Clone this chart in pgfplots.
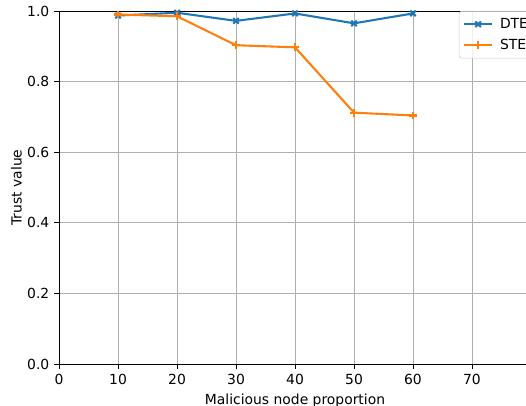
\documentclass[border=0pt]{standalone}
\usepackage{fontspec}
\setmainfont{DejaVu Sans}
\usepackage{pgfplots}
\pgfplotsset{compat=1.18}
\usetikzlibrary{calc}
\definecolor{c0}{HTML}{1F77B4}
\definecolor{c1}{HTML}{FF7F0E}
\definecolor{gridc}{HTML}{B0B0B0}
\begin{document}
\begin{tikzpicture}
\begin{axis}[
  name=ax,
  scale only axis,
  width=339.8pt, height=254.2pt,
  xmin=0, xmax=80, ymin=0, ymax=1,
  xtick={0,10,20,30,40,50,60,70},
  ytick={0,0.2,0.4,0.6,0.8,1.0},
  yticklabel style={/pgf/number format/fixed,/pgf/number format/fixed zerofill,/pgf/number format/precision=1},
  /pgf/number format/assume math mode=true,
  tick label style={font=\fontsize{10}{12}\selectfont},
  label style={font=\fontsize{10}{12}\selectfont},
  xlabel={Malicious node proportion},
  ylabel={Trust value},
  xlabel style={yshift=3pt},
  ylabel style={yshift=-3pt},
  grid=major,
  major grid style={gridc, line width=0.6pt},
  tick align=outside,
  major tick length=3.5pt,
  xtick pos=bottom, ytick pos=left,
  axis x line=box, axis y line*=left,
  axis line style={-, line width=0.6pt, black},
  every tick/.style={black, line width=0.6pt},
  legend cell align=left,
  legend image code/.code={\draw[mark repeat=2,mark phase=2] plot coordinates {(0pt,0pt)(10pt,0pt)(20pt,0pt)};},
  legend style={at={(rel axis cs:0.847,1.0)}, anchor=north west,
    draw=gray!40, rounded corners=2pt, fill=white, fill opacity=0.8, text opacity=1,
    font=\fontsize{10}{12}\selectfont, inner xsep=3pt, inner ysep=3pt, row sep=2pt,
    nodes={inner xsep=5pt}},
]
\addplot[c0, line width=1.5pt, mark=x, mark size=2.8pt, mark options={solid}] coordinates {
(10,0.987) (20,0.995) (30,0.972) (40,0.993) (50,0.965) (60,0.993)
};
\addlegendentry{DTE}
\addplot[c1, line width=1.5pt, mark=+, mark size=2.8pt, mark options={solid}] coordinates {
(10,0.990) (20,0.985) (30,0.903) (40,0.897) (50,0.712) (60,0.704)
};
\addlegendentry{STE}
\end{axis}
\pgfresetboundingbox
\useasboundingbox ($(ax.south west)+(-42.5pt,-30.2pt)$) rectangle ($(ax.south west)+(336.2pt,262.1pt)$);
\end{tikzpicture}
\end{document}
